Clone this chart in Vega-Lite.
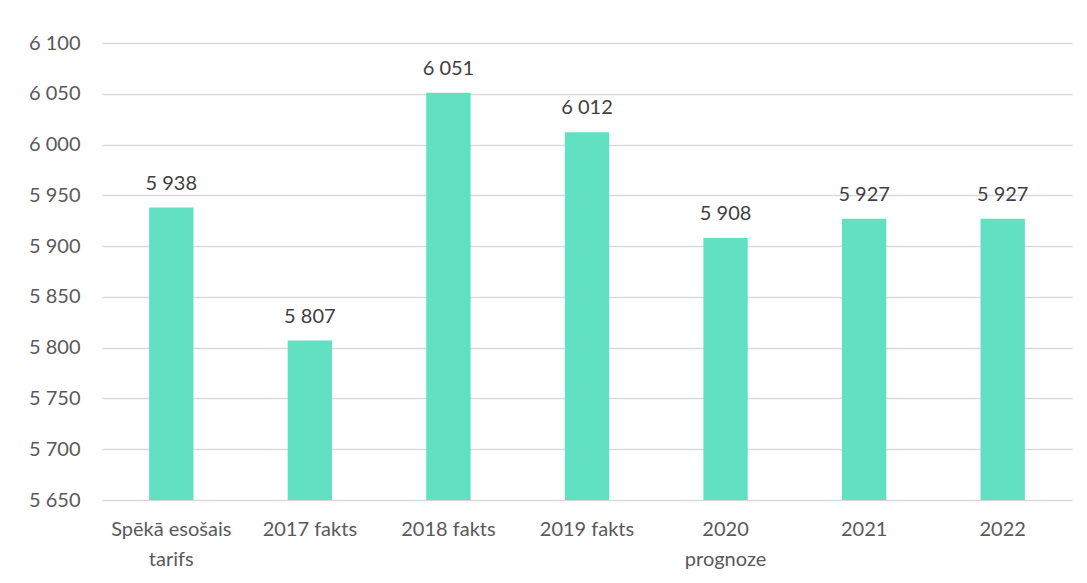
{
  "$schema": "https://vega.github.io/schema/vega-lite/v6.json",
  "width": 970,
  "height": 457,
  "autosize": "none",
  "padding": {"left": 102, "top": 43, "right": 15, "bottom": 83},
  "background": "white",
  "config": {
    "view": {"stroke": null},
    "font": "Lato",
    "locale": {"number": {"decimal": ",", "thousands": " ", "grouping": [3], "currency": ["", ""]}}
  },
  "data": {
    "values": [
      {"category": "Spēkā esošais tarifs", "value": 5938},
      {"category": "2017 fakts", "value": 5807},
      {"category": "2018 fakts", "value": 6051},
      {"category": "2019 fakts", "value": 6012},
      {"category": "2020 prognoze", "value": 5908},
      {"category": "2021", "value": 5927},
      {"category": "2022", "value": 5927}
    ]
  },
  "encoding": {
    "x": {
      "field": "category",
      "type": "nominal",
      "sort": null,
      "scale": {"paddingInner": 0.68, "paddingOuter": 0.34},
      "axis": {
        "title": null,
        "labelAngle": 0,
        "labelFont": "Lato",
        "labelFontSize": 20,
        "labelColor": "#595959",
        "labelPadding": 19,
        "labelLineHeight": 30,
        "labelBaseline": "top",
        "ticks": false,
        "domain": false,
        "grid": false,
        "labelExpr": "datum.value == 'Spēkā esošais tarifs' ? ['Spēkā esošais', 'tarifs'] : datum.value == '2020 prognoze' ? ['2020', 'prognoze'] : datum.value"
      }
    },
    "y": {
      "field": "value",
      "type": "quantitative",
      "scale": {"domain": [5650, 6100], "zero": false, "nice": false},
      "axis": {
        "title": null,
        "values": [5650, 5700, 5750, 5800, 5850, 5900, 5950, 6000, 6050, 6100],
        "format": ",d",
        "labelFont": "Lato",
        "labelFontSize": 20,
        "labelColor": "#595959",
        "labelPadding": 22,
        "ticks": false,
        "domain": false,
        "grid": true,
        "gridColor": "#D9D9D9",
        "gridWidth": 1.5
      }
    }
  },
  "layer": [
    {
      "mark": {"type": "bar", "color": "#62E0C2"},
      "encoding": {"y2": {"datum": 5650}}
    },
    {
      "mark": {"type": "text", "baseline": "alphabetic", "dy": -18, "fontSize": 20, "color": "#404040", "font": "Lato"},
      "encoding": {"text": {"field": "value", "type": "quantitative", "format": ",d"}}
    }
  ]
}
